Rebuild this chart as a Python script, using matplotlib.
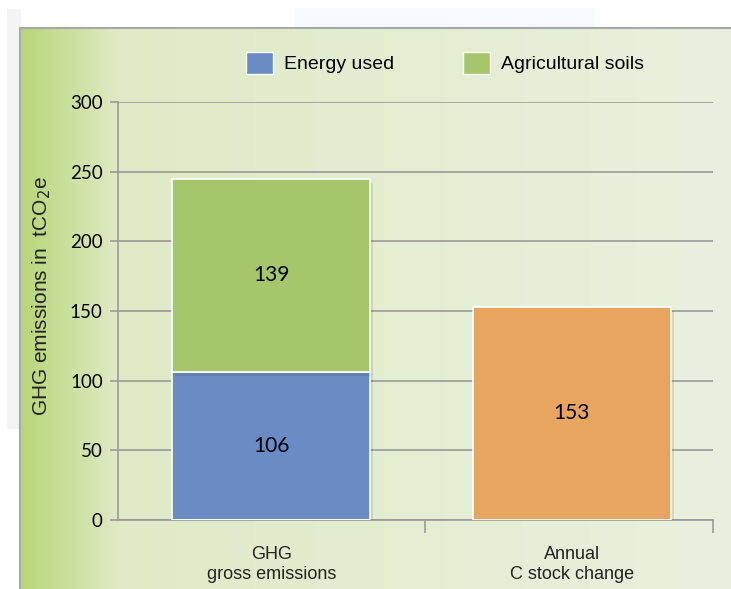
import numpy as np
import matplotlib
matplotlib.use("Agg")
import matplotlib.pyplot as plt
from matplotlib.patches import Rectangle, Patch
import matplotlib.patheffects as pe

# data
categories = ["GHG\ngross emissions", "Annual\nC stock change"]
energy_used = [106, 0]
agri_soils = [139, 0]
stock_change = [0, 153]
y_ticks = [0, 50, 100, 150, 200, 250, 300]

BLUE = "#6a8bc4"
GREEN = "#a6c66c"
ORANGE = "#e8a55f"
GRID = "#9a9a9a"

W, H = 731, 589
fig = plt.figure(figsize=(W / 100, H / 100), dpi=100)

# panel background with green gradient on the left
bg = fig.add_axes([0, 0, 1, 1])
bg.set_xlim(0, W)
bg.set_ylim(H, 0)
bg.axis("off")
bg.add_patch(Rectangle((7, 9), 14, 420, color="#f4f4f4", lw=0))
bg.add_patch(Rectangle((295, 8), 300, 20, color="#f7fafd", lw=0))
xs = np.linspace(0, 1, 300)
left = np.array([0.72, 0.84, 0.47])
mid = np.array([0.875, 0.92, 0.78])
right = np.array([0.91, 0.945, 0.87])
t = np.clip(xs / 0.14, 0, 1)[:, None]
cols = left * (1 - t) + mid * t
t2 = np.clip((xs - 0.14) / 0.86, 0, 1)[:, None]
cols = np.where(xs[:, None] > 0.14, mid * (1 - t2) + right * t2, cols)
bg.imshow(cols[None, :, :], extent=(20, W, H, 28), aspect="auto")
bg.plot([20, 20, W], [H, 28, 28], color="#a8a8a8", lw=1.5)

ax = fig.add_axes([118 / W, 1 - 520 / H, 595 / W, 418 / H])
ax.patch.set_alpha(0)
x = np.arange(len(categories))
shadow = [pe.SimplePatchShadow(offset=(2, -3), alpha=0.12), pe.Normal()]
bw = 0.66
b1 = ax.bar(x, energy_used, bw, color=BLUE, edgecolor="white", lw=1.2, zorder=3,
            path_effects=shadow)
b2 = ax.bar(x, agri_soils, bw, bottom=energy_used, color=GREEN, edgecolor="white",
            lw=1.2, zorder=3, path_effects=shadow)
b3 = ax.bar(x, stock_change, bw, color=ORANGE, edgecolor="white", lw=1.2, zorder=3,
            path_effects=shadow)

num_font = dict(family="Lato", fontsize=15, color="black")
for i in range(len(categories)):
    if energy_used[i]:
        ax.text(x[i], energy_used[i] / 2, str(energy_used[i]), ha="center", va="center", zorder=4, **num_font)
    if agri_soils[i]:
        ax.text(x[i], energy_used[i] + agri_soils[i] / 2, str(agri_soils[i]), ha="center", va="center", zorder=4, **num_font)
    if stock_change[i]:
        ax.text(x[i], stock_change[i] / 2, str(stock_change[i]), ha="center", va="center", zorder=4, **num_font)

ax.set_xlim(-0.51, 1.47)
ax.set_ylim(0, 300)
ax.set_yticks(y_ticks)
ax.set_yticklabels([str(v) for v in y_ticks], family="Lato", fontsize=13.5)
ax.yaxis.grid(True, color=GRID, lw=1.2, zorder=1)
ax.tick_params(axis="y", length=6, width=1.2, color=GRID, pad=5)
ax.set_xticks([0.51, 1.47], minor=False)
ax.set_xticklabels(["", ""])
ax.tick_params(axis="x", length=9, width=1.2, color=GRID, direction="out")
for i, c in enumerate(categories):
    ax.text(x[i], -19, c, ha="center", va="top", family="Liberation Sans",
            fontsize=13, color="#222222", linespacing=1.2)
for s in ["top", "right"]:
    ax.spines[s].set_visible(False)
for s in ["left", "bottom"]:
    ax.spines[s].set_color(GRID)
    ax.spines[s].set_linewidth(1.2)

fig.text(42 / W, 1 - 296 / H, "GHG emissions in  tCO$_2$e", rotation=90, ha="center",
         va="center", family="Liberation Sans", fontsize=15, color="#222222")

handles = [Patch(facecolor=BLUE, edgecolor="white"), Patch(facecolor=GREEN, edgecolor="white")]
fig.legend(handles, ["Energy used", "Agricultural soils"], loc="center",
           bbox_to_anchor=(445 / W, 1 - 63 / H), ncol=2, frameon=False,
           prop=dict(family="Liberation Sans", size=14), handlelength=1.4,
           handleheight=1.4, handletextpad=0.6, columnspacing=3.5)

fig.savefig("out.png", dpi=100)
